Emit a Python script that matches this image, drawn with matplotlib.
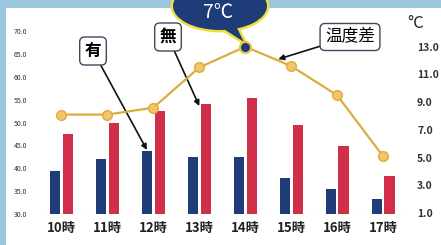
import matplotlib.pyplot as plt
import numpy as np
from matplotlib.patches import Ellipse, Polygon, Rectangle

plt.rcParams['font.family'] = ['Noto Sans CJK JP', 'DejaVu Sans']

# data
hours = ['10時', '11時', '12時', '13時', '14時', '15時', '16時', '17時']
with_vals = [39.5, 42.0, 43.8, 42.4, 42.4, 37.9, 35.4, 33.3]      # 有
without_vals = [47.5, 50.0, 52.5, 54.0, 55.3, 49.4, 44.9, 38.4]   # 無
temp_diff = [8.1, 8.1, 8.6, 11.5, 13.0, 11.6, 9.5, 5.1]           # 温度差
left_ticks = np.arange(30, 71, 5)
right_ticks = np.arange(1, 14, 2)

navy = '#1d3c78'
red = '#cf2f48'
gold = '#dcac3c'

W, H = 441, 245
fig = plt.figure(figsize=(W / 100, H / 100), dpi=100, facecolor='#9cc6de')
fig.patches.append(Rectangle((6 / W, 0), 1, 1 - 8 / H, transform=fig.transFigure,
                             fc='white', ec='none', zorder=-1))

ax = fig.add_axes([38.5 / W, 1 - 214 / H, (406 - 38.5) / W, 183 / H])
ax.set_facecolor('none')
x = np.arange(len(hours))
bw = 0.22
ax.bar(x - 0.14, np.array(with_vals) - 30, bw, bottom=30, color=navy)
ax.bar(x + 0.14, np.array(without_vals) - 30, bw, bottom=30, color=red)
ax.set_xlim(-0.5, len(hours) - 0.5)
ax.set_ylim(30, 70)
ax.set_yticks(left_ticks, [f'{v:.1f}' for v in left_ticks], fontsize=5, color='#333333')
ax.set_xticks(x, hours, fontsize=9.5, fontweight='bold', color='#222222')
ax.tick_params(length=0, pad=8)
ax.tick_params(axis='x', pad=5)
for s in ax.spines.values():
    s.set_visible(False)
ax.axhline(30, color='#999999', lw=0.8, ls=':')

ax2 = ax.twinx()
ax2.set_ylim(0.93, 14.13)
ax2.plot(x, temp_diff, color=gold, lw=1.6, marker='o', ms=7,
         mfc='#f2c56a', mec=gold, zorder=3)
ax2.set_yticks(right_ticks, [f'{v:.1f}' for v in right_ticks], fontsize=7.5,
               fontweight='bold', color='#333333')
ax2.tick_params(length=0, pad=8)
for s in ax2.spines.values():
    s.set_visible(False)

# speech bubble above the 14時 point
tf = fig.transFigure
tail = [(216 / W, 1 - 24 / H), (236 / W, 1 - 26 / H), (244 / W, 1 - 42 / H)]
for fc, ec, lw in [('#f2de3a', '#f2de3a', 3.5), (navy, 'none', 0)]:
    ax2.add_patch(Polygon(tail, closed=True, transform=tf, fc=fc, ec=ec, lw=lw,
                          clip_on=False, zorder=4))
    ax2.add_patch(Ellipse((220 / W, 1 - 6 / H), 94 / W, 48 / H, transform=tf,
                          fc=fc, ec=ec, lw=lw, clip_on=False, zorder=4))
ax2.text(218 / W, 1 - 13 / H, '7℃', transform=tf, color='white', fontsize=14,
         ha='center', va='center', zorder=5, clip_on=False)
ax2.plot([4], [temp_diff[4]], marker='o', ms=8, mfc=navy, mec='#e8c840',
         mew=1.5, zorder=6, clip_on=False)

box = dict(boxstyle='round,pad=0.3,rounding_size=0.3', fc='white', ec='#3c4a5c', lw=1)
arrow = dict(arrowstyle='-|>', color='#111111', lw=1.2, mutation_scale=8,
             shrinkA=0, shrinkB=0)
ax.annotate('有', xy=(1.86, 44.0), xytext=(93 / W, 1 - 51 / H),
            textcoords='figure fraction', fontsize=12, fontweight='bold',
            ha='center', va='center', bbox=box, arrowprops=arrow, zorder=6)
ax.annotate('無', xy=(3.0, 53.6), xytext=(168 / W, 1 - 37 / H),
            textcoords='figure fraction', fontsize=12, fontweight='bold',
            ha='center', va='center', bbox=box, arrowprops=arrow, zorder=6)
ax2.annotate('温度差', xy=(4.72, 12.1), xytext=(350 / W, 1 - 37 / H),
             textcoords='figure fraction', fontsize=12,
             ha='center', va='center', bbox=box, arrowprops=arrow, zorder=6)
fig.text(416 / W, 1 - 24 / H, '°C', fontsize=12, ha='center', va='center', color='#222222')

fig.savefig('out.png', dpi=100, facecolor=fig.get_facecolor())
